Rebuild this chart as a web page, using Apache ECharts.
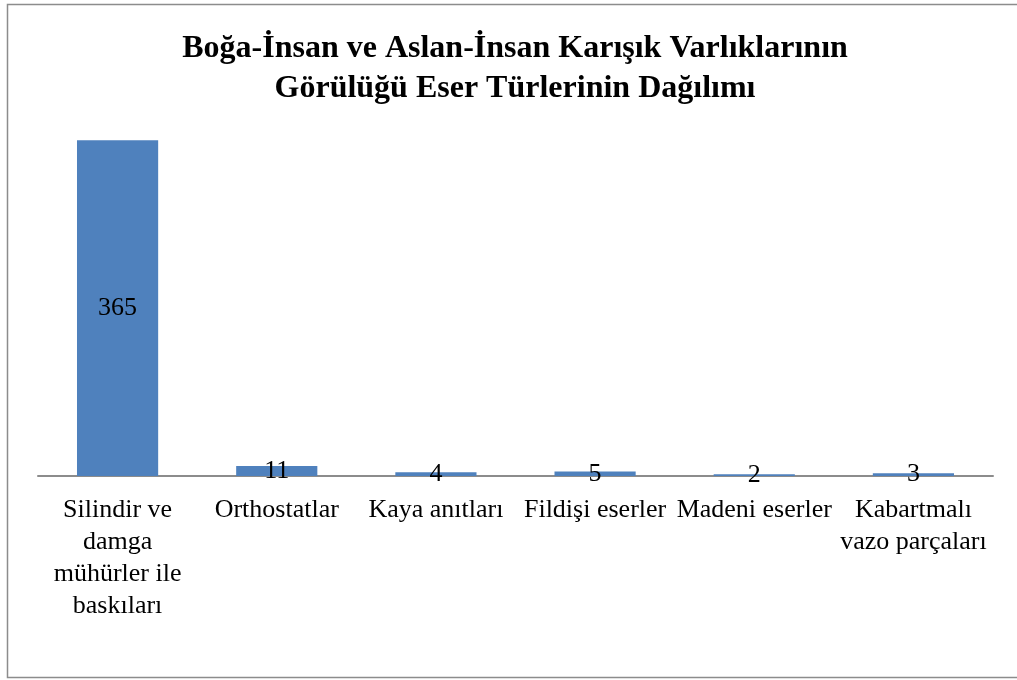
<!DOCTYPE html>
<html>
<head>
<meta charset="utf-8">
<script src="https://cdn.jsdelivr.net/npm/echarts@6/dist/echarts.min.js"></script>
<style>
  html, body { margin: 0; padding: 0; background: #fff; }
  #chart { width: 1017px; height: 680px; }
</style>
</head>
<body>
<div id="chart"></div>
<script>
  // eser türleri ve sayıları
  var categories = [
    'Silindir ve\ndamga\nmühürler ile\nbaskıları',
    'Orthostatlar',
    'Kaya anıtları',
    'Fildişi eserler',
    'Madeni eserler',
    'Kabartmalı\nvazo parçaları'
  ];
  var values = [365, 11, 4, 5, 2, 3];

  var myChart = echarts.init(document.getElementById('chart'));
  var option = {
    backgroundColor: '#fff',
    animation: false,
    graphic: [{
      type: 'rect',
      shape: { x: 7.5, y: 4.5, width: 1020, height: 673 },
      style: { fill: 'none', stroke: '#8c8c8c', lineWidth: 1.5 },
      silent: true
    }],
    title: {
      text: 'Boğa-İnsan ve Aslan-İnsan Karışık Varlıklarının\nGörülüğü Eser Türlerinin Dağılımı',
      left: 510,
      top: 24,
      textAlign: 'center',
      textStyle: {
        fontFamily: 'Liberation Serif',
        fontWeight: 'bold',
        fontSize: 32,
        lineHeight: 40,
        color: '#000'
      }
    },
    grid: { left: 38, right: 24, top: 108, bottom: 204 },
    xAxis: {
      type: 'category',
      data: categories,
      axisLine: { lineStyle: { color: '#8c8c8c', width: 2 } },
      axisTick: { show: false },
      axisLabel: {
        interval: 0,
        margin: 18,
        color: '#000',
        fontFamily: 'Liberation Serif',
        fontSize: 26,
        lineHeight: 32
      }
    },
    yAxis: {
      type: 'value',
      min: 0,
      max: 400,
      show: false,
      splitLine: { show: false }
    },
    series: [{
      type: 'bar',
      data: values,
      barWidth: '51%',
      itemStyle: { color: '#4f81bd' },
      label: {
        show: true,
        position: 'inside',
        color: '#000',
        fontFamily: 'Liberation Serif',
        fontSize: 26
      }
    }]
  };
  myChart.setOption(option);
</script>
</body>
</html>
